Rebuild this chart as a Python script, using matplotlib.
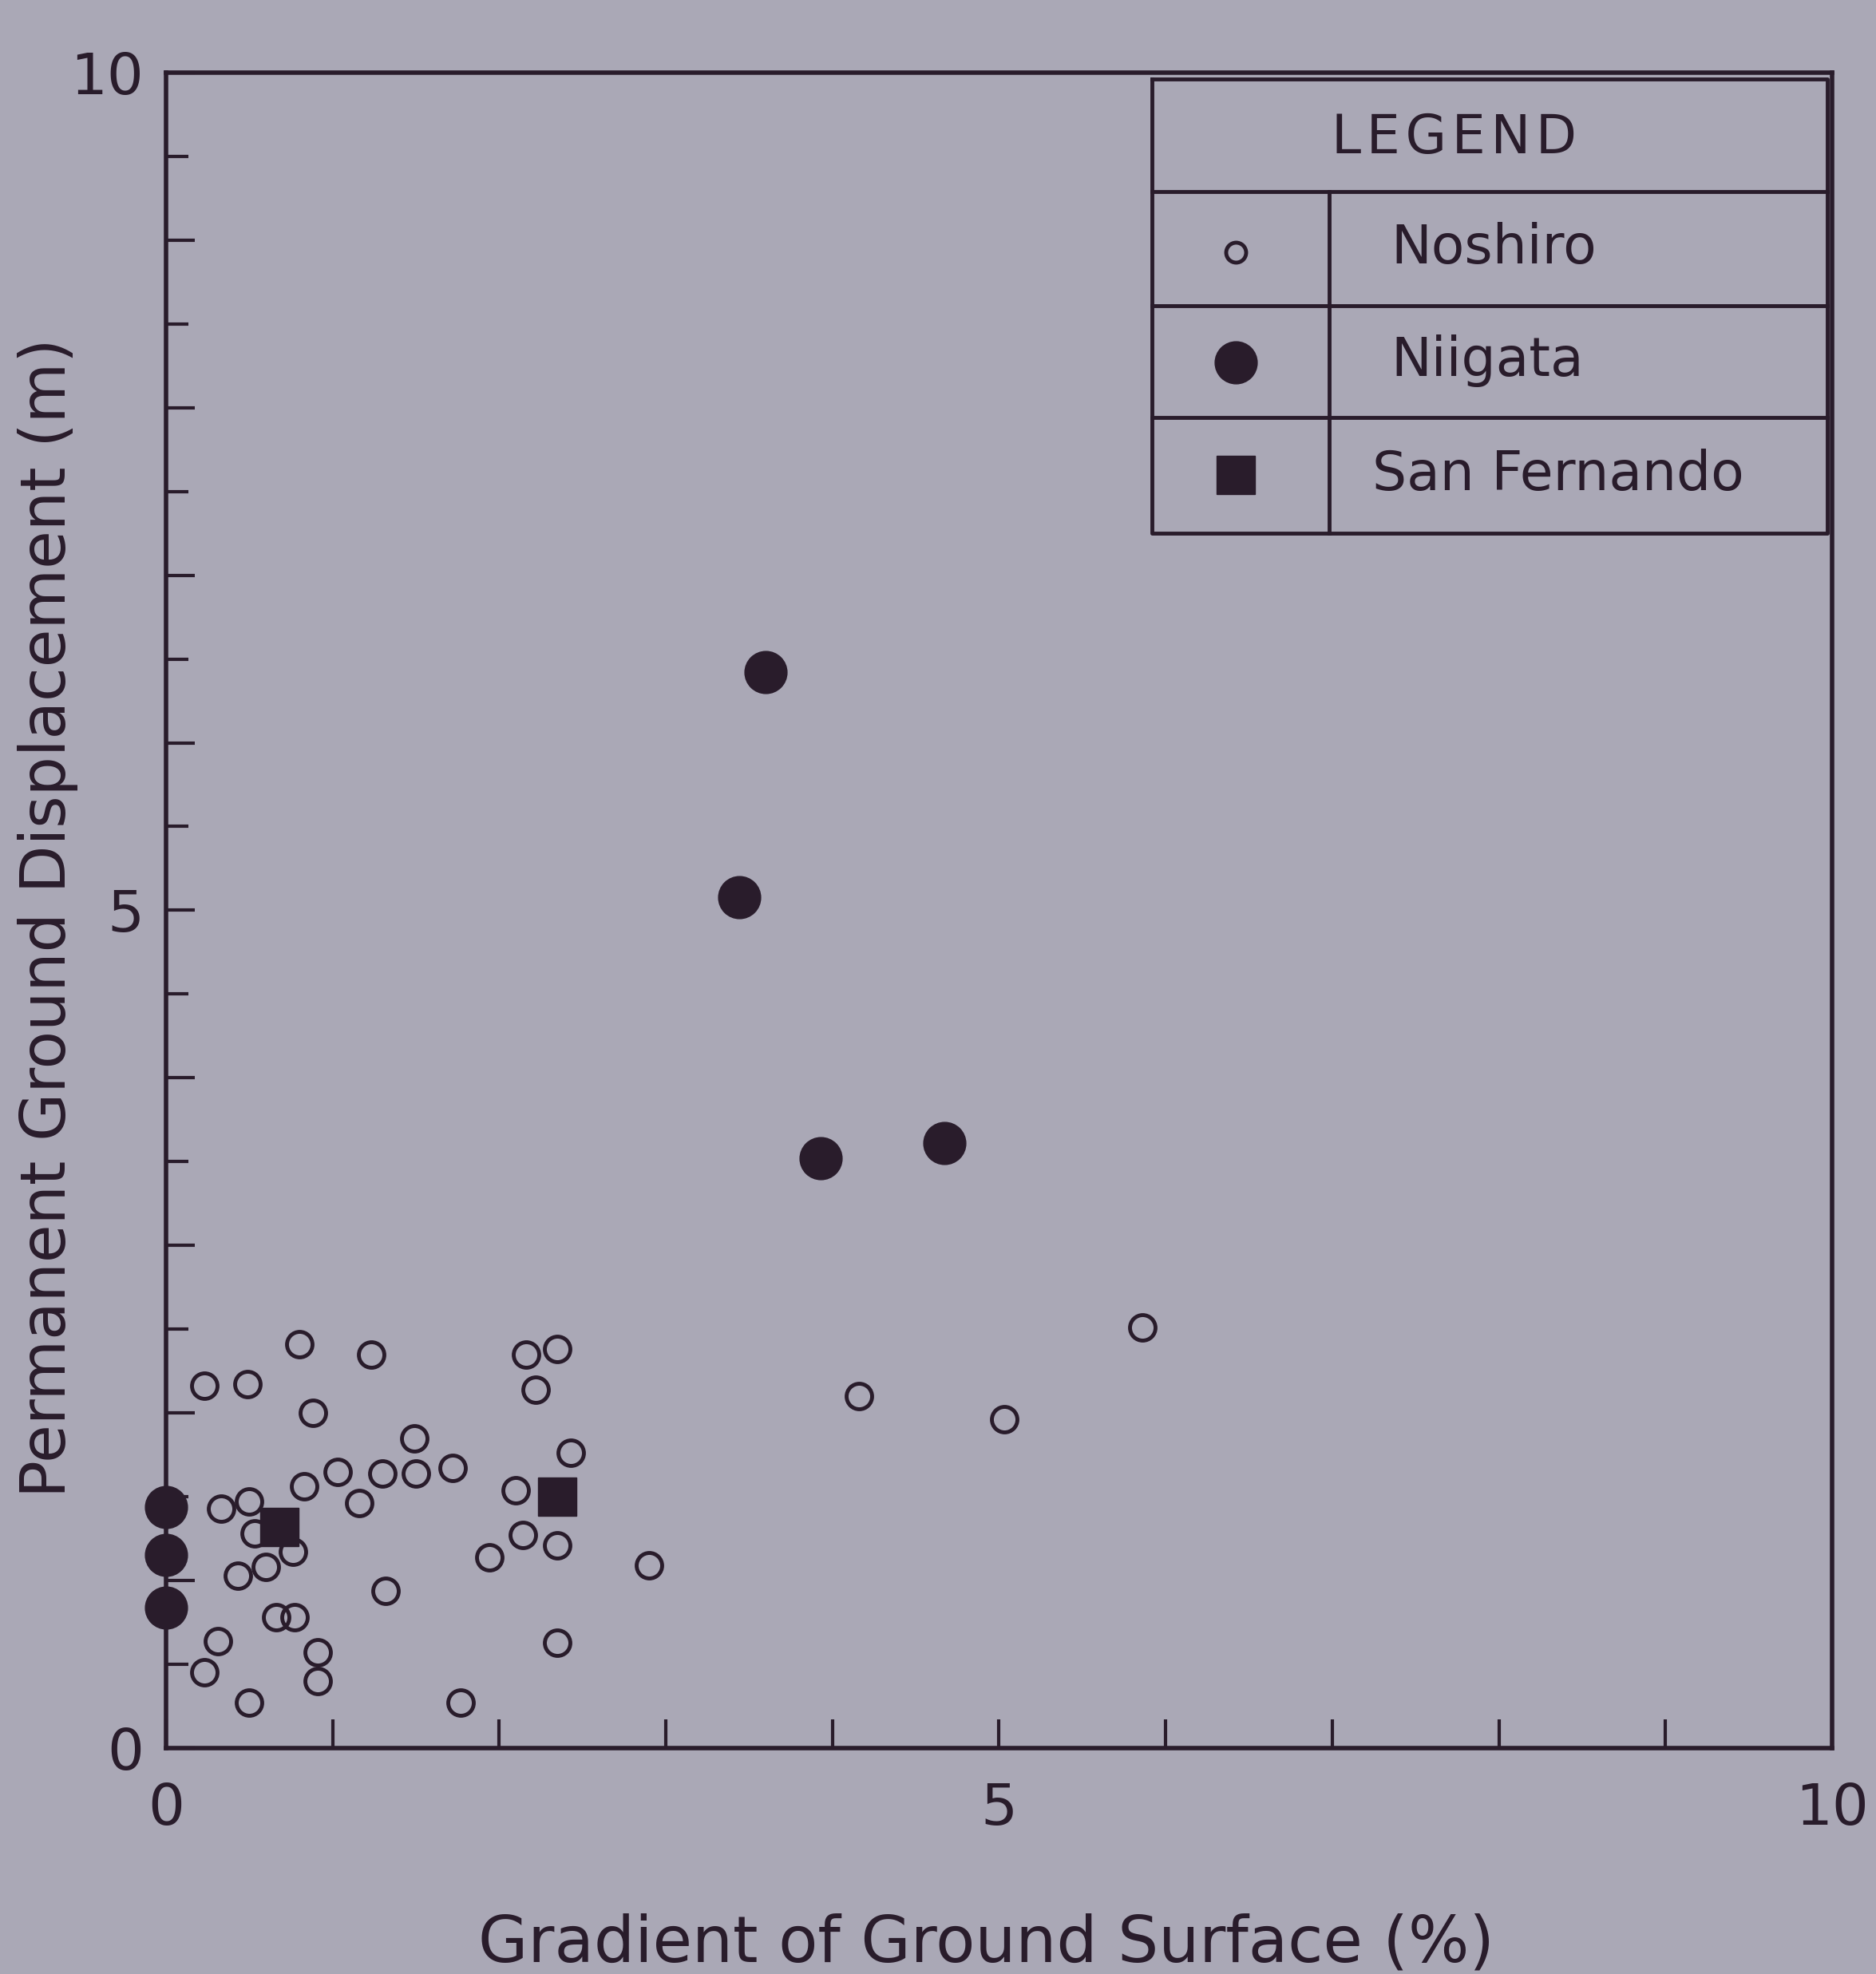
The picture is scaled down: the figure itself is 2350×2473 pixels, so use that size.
import matplotlib
matplotlib.use('Agg')
import matplotlib.pyplot as plt
from matplotlib.ticker import MultipleLocator, FuncFormatter

# data
noshiro_x = [0.80, 1.23, 0.23, 0.49, 0.88, 1.49, 1.50, 1.72, 1.30, 1.03,
             0.83, 1.16, 0.33, 0.50, 0.53, 0.76, 0.60, 0.43, 1.94, 1.32,
             0.66, 0.77, 0.31, 0.23, 0.91, 0.91, 0.50, 1.77, 2.16, 2.35,
             2.22, 2.43, 2.10, 2.14, 2.35, 2.90, 2.35, 4.16, 5.03, 5.86]
noshiro_y = [2.41, 2.35, 2.16, 2.17, 2.00, 1.85, 1.64, 1.67, 1.64, 1.65,
             1.56, 1.46, 1.43, 1.47, 1.28, 1.17, 1.08, 1.03, 1.14, 0.94,
             0.78, 0.78, 0.64, 0.45, 0.57, 0.40, 0.27, 0.27, 2.35, 2.38,
             2.14, 1.76, 1.54, 1.27, 1.21, 1.09, 0.63, 2.10, 1.96, 2.51]

niigata_x = [0.0, 0.0, 0.0, 3.60, 3.44, 3.93, 4.67]
niigata_y = [1.44, 1.15, 0.84, 6.42, 5.08, 3.52, 3.61]

sanfernando_x = [0.68, 2.35]
sanfernando_y = [1.32, 1.50]

legend_labels = ['Noshiro', 'Niigata', 'San Fernando']

bg = '#aaa8b6'
ink = '#291c2b'

plt.rcParams['font.family'] = ['DejaVu Sans']

fig = plt.figure(figsize=(23.5, 24.73), dpi=100, facecolor=bg)
ax = fig.add_axes([0.0885, 0.1145, 0.8881, 0.8487])
ax.set_facecolor(bg)

ax.plot(noshiro_x, noshiro_y, 'o', ls='none', ms=23, mfc='none', mec=ink,
        mew=3.5, clip_on=False)
ax.plot(niigata_x, niigata_y, 'o', ls='none', ms=38, mfc=ink, mec=ink,
        mew=1, clip_on=False)
ax.plot(sanfernando_x, sanfernando_y, 's', ls='none', ms=35, mfc=ink,
        mec=ink, mew=1, clip_on=False)

ax.set_xlim(0, 10)
ax.set_ylim(0, 10)

for s in ax.spines.values():
    s.set_linewidth(4)
    s.set_color(ink)

ax.xaxis.set_major_locator(MultipleLocator(1))
ax.yaxis.set_major_locator(MultipleLocator(1))
ax.yaxis.set_minor_locator(MultipleLocator(0.5))
lab = FuncFormatter(lambda v, p: '%d' % v if v in (0, 5, 10) else '')
ax.xaxis.set_major_formatter(lab)
ax.yaxis.set_major_formatter(lab)
ax.tick_params(axis='x', which='major', direction='in', length=26, width=3,
               color=ink, labelcolor=ink, labelsize=52, pad=30)
ax.tick_params(axis='y', which='major', direction='in', length=26, width=3,
               color=ink, labelcolor=ink, labelsize=52, pad=20)
ax.tick_params(axis='y', which='minor', direction='in', length=20, width=3,
               color=ink)

ax.set_xlabel('Gradient of Ground Surface (%)', fontsize=58, color=ink,
              va='center')
ax.xaxis.set_label_coords(0.4925, -0.117)
ax.set_ylabel('Permanent Ground Displacement (m)', fontsize=56, color=ink,
              va='center')
ax.yaxis.set_label_coords(-0.071, 0.4955)

# legend drawn as a ruled table in the upper right
tl, tdiv, tr = 0.592, 0.698, 0.997
rows = [0.996, 0.929, 0.861, 0.794, 0.725]
lw = 3.5
ax.plot([tl, tr, tr, tl, tl], [rows[0], rows[0], rows[-1], rows[-1], rows[0]],
        color=ink, lw=lw, transform=ax.transAxes, clip_on=False)
for r in rows[1:-1]:
    ax.plot([tl, tr], [r, r], color=ink, lw=lw, transform=ax.transAxes,
            clip_on=False)
ax.plot([tdiv, tdiv], [rows[1], rows[-1]], color=ink, lw=lw,
        transform=ax.transAxes, clip_on=False)
ax.text(0.773, 0.961, '\u200a'.join('LEGEND'), transform=ax.transAxes,
        ha='center', va='center', fontsize=48, color=ink)

sym_x = 0.642
ax.plot([sym_x], [0.893], 'o', ms=18, mfc='none', mec=ink, mew=3.5,
        transform=ax.transAxes, clip_on=False)
ax.plot([sym_x], [0.827], 'o', ms=38, mfc=ink, mec=ink,
        transform=ax.transAxes, clip_on=False)
ax.plot([sym_x], [0.760], 's', ms=35, mfc=ink, mec=ink,
        transform=ax.transAxes, clip_on=False)
text_x = [0.735, 0.735, 0.724]
text_y = [0.895, 0.828, 0.760]
for tx, ty, name in zip(text_x, text_y, legend_labels):
    ax.text(tx, ty, name, transform=ax.transAxes, ha='left', va='center',
            fontsize=49, color=ink)

fig.savefig('out.png', dpi=100, facecolor=bg)
